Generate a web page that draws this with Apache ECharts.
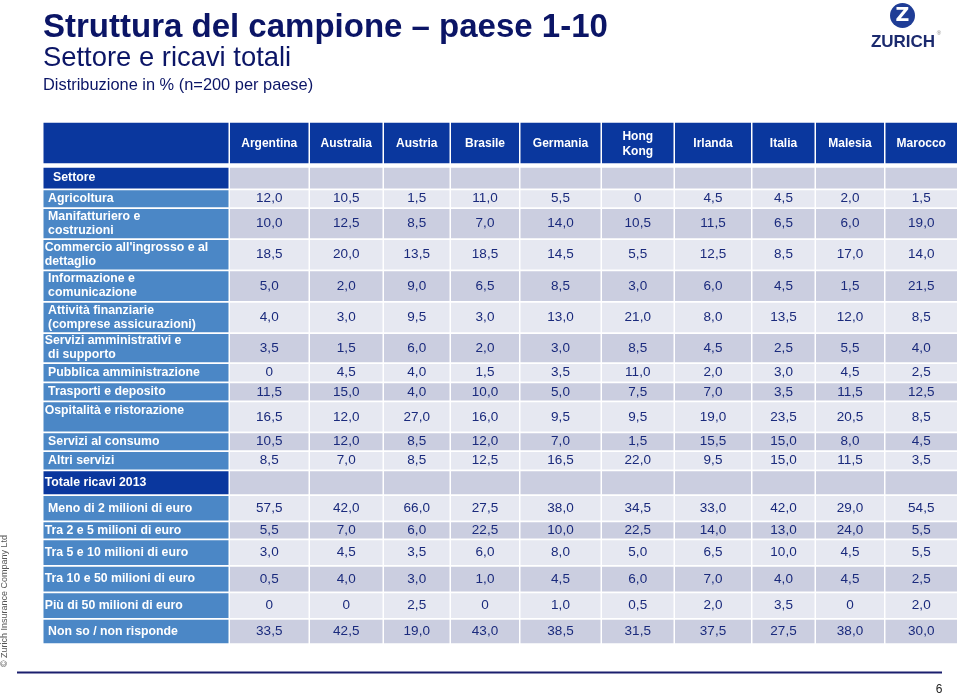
<!DOCTYPE html>
<html>
<head>
<meta charset="utf-8">
<script src="https://cdn.jsdelivr.net/npm/echarts@6/dist/echarts.min.js"></script>
<style>
  html, body { margin: 0; padding: 0; background: #fff; }
  #tab { width: 960px; height: 700px; }
</style>
</head>
<body>
<div id="tab"></div>
<script>
// ---- data ----
var countries = ['Argentina', 'Australia', 'Austria', 'Brasile', 'Germania', 'Hong\nKong', 'Irlanda', 'Italia', 'Malesia', 'Marocco'];

var sectorTitle = 'Settore';
var sectorLabels = [
  ' Agricoltura',
  ' Manifatturiero e\n costruzioni',
  "Commercio all'ingrosso e al\ndettaglio",
  ' Informazione e\n comunicazione',
  ' Attività finanziarie\n (comprese assicurazioni)',
  'Servizi amministrativi e\n di supporto',
  ' Pubblica amministrazione',
  ' Trasporti e deposito',
  'Ospitalità e ristorazione',
  ' Servizi al consumo',
  ' Altri servizi'
];
var sectorValues = [
  [12.0, 10.5, 1.5, 11.0, 5.5, 0, 4.5, 4.5, 2.0, 1.5],
  [10.0, 12.5, 8.5, 7.0, 14.0, 10.5, 11.5, 6.5, 6.0, 19.0],
  [18.5, 20.0, 13.5, 18.5, 14.5, 5.5, 12.5, 8.5, 17.0, 14.0],
  [5.0, 2.0, 9.0, 6.5, 8.5, 3.0, 6.0, 4.5, 1.5, 21.5],
  [4.0, 3.0, 9.5, 3.0, 13.0, 21.0, 8.0, 13.5, 12.0, 8.5],
  [3.5, 1.5, 6.0, 2.0, 3.0, 8.5, 4.5, 2.5, 5.5, 4.0],
  [0, 4.5, 4.0, 1.5, 3.5, 11.0, 2.0, 3.0, 4.5, 2.5],
  [11.5, 15.0, 4.0, 10.0, 5.0, 7.5, 7.0, 3.5, 11.5, 12.5],
  [16.5, 12.0, 27.0, 16.0, 9.5, 9.5, 19.0, 23.5, 20.5, 8.5],
  [10.5, 12.0, 8.5, 12.0, 7.0, 1.5, 15.5, 15.0, 8.0, 4.5],
  [8.5, 7.0, 8.5, 12.5, 16.5, 22.0, 9.5, 15.0, 11.5, 3.5]
];

var revenueTitle = 'Totale ricavi 2013';
var revenueLabels = [
  ' Meno di 2 milioni di euro',
  'Tra 2 e 5 milioni di euro',
  'Tra 5 e 10 milioni di euro',
  'Tra 10 e 50 milioni di euro',
  'Più di 50 milioni di euro',
  ' Non so / non risponde'
];
var revenueValues = [
  [57.5, 42.0, 66.0, 27.5, 38.0, 34.5, 33.0, 42.0, 29.0, 54.5],
  [5.5, 7.0, 6.0, 22.5, 10.0, 22.5, 14.0, 13.0, 24.0, 5.5],
  [3.0, 4.5, 3.5, 6.0, 8.0, 5.0, 6.5, 10.0, 4.5, 5.5],
  [0.5, 4.0, 3.0, 1.0, 4.5, 6.0, 7.0, 4.0, 4.5, 2.5],
  [0, 0, 2.5, 0, 1.0, 0.5, 2.0, 3.5, 0, 2.0],
  [33.5, 42.5, 19.0, 43.0, 38.5, 31.5, 37.5, 27.5, 38.0, 30.0]
];

// ---- table layout (axis units = px of the page) ----
var colStarts = [43.5, 230, 310, 384, 451, 520.5, 602, 675, 752.5, 816, 885.5];
var tableRight = 958.5;
var rowTops = [122.7, 167.7, 190.3, 209, 240, 271.3, 302.7, 334, 364, 383.3, 402.3,
               433.3, 452, 471.3, 496, 522.3, 540.3, 566.7, 593.3, 619.7];
var tableBottom = 645;
var colGap = 1.5, rowGap = 1.8, headerGap = 4.4;
var topLabelRow = 10; // Ospitalità: label sits at the top of the cell

var navy = '#0a379e', blue = '#4b87c6', light = '#e6e8f1', dark = '#cbcee0';
var ink = '#1a2a7c';
var font = '"Liberation Sans", Arial, Helvetica, sans-serif';

function fmt(v) {
  return v === 0 ? '0' : v.toFixed(1).replace('.', ',');
}

// build the cell list
var cells = [];
function addRow(r, kind, label, values) {
  cells.push({ value: [0, r], kind: kind, col: 0, text: label });
  for (var c = 0; c < 10; c++) {
    var t = '';
    if (kind === 'header') t = countries[c];
    else if (values) t = fmt(values[c]);
    cells.push({ value: [c + 1, r], kind: kind, col: c + 1, text: t });
  }
}
var r = 0;
addRow(r++, 'header', '', null);
addRow(r++, 'section', sectorTitle, null);
sectorLabels.forEach(function (lab, i) { addRow(r++, 'data', lab, sectorValues[i]); });
addRow(r++, 'section', revenueTitle, null);
revenueLabels.forEach(function (lab, i) { addRow(r++, 'data', lab, revenueValues[i]); });

function renderCell(params, api) {
  var cell = cells[params.dataIndex];
  var c = api.value(0), row = api.value(1);
  var x0 = colStarts[c];
  var x1 = (c + 1 < colStarts.length ? colStarts[c + 1] : tableRight) - colGap;
  var y0 = rowTops[row];
  var y1 = (row + 1 < rowTops.length ? rowTops[row + 1] : tableBottom) - (row === 0 ? headerGap : rowGap);
  var a = api.coord([x0, y0]);
  var b = api.coord([x1, y1]);
  var fill;
  if (cell.kind === 'header') fill = navy;
  else if (cell.kind === 'section') fill = c === 0 ? navy : dark;
  else fill = c === 0 ? blue : (row % 2 === 0 ? light : dark);

  var children = [{
    type: 'rect',
    shape: { x: a[0], y: a[1], width: b[0] - a[0], height: b[1] - a[1] },
    style: { fill: fill }
  }];
  if (cell.text) {
    var isLabel = c === 0;
    var tx = isLabel ? a[0] + (cell.kind === 'section' && row === 1 ? 9.5 : 1.2) : (a[0] + b[0]) / 2;
    var ty = (a[1] + b[1]) / 2 + (cell.kind === 'header' ? 1 : 0);
    if (isLabel && row === topLabelRow) ty = a[1] + 8;
    var white = isLabel || cell.kind === 'header';
    children.push({
      type: 'text',
      style: {
        text: cell.text,
        x: tx,
        y: ty,
        align: isLabel ? 'left' : 'center',
        verticalAlign: 'middle',
        fill: white ? '#ffffff' : ink,
        fontFamily: font,
        fontSize: isLabel ? 12.3 : (white ? 12 : 13.5),
        fontWeight: white ? 'bold' : 'normal',
        lineHeight: cell.kind === 'header' ? 15 : 14
      }
    });
  }
  return { type: 'group', children: children };
}

var chart = echarts.init(document.getElementById('tab'));
var option = {
  animation: false,
  grid: { left: 0, right: 0, top: 0, bottom: 0 },
  xAxis: { type: 'value', min: 0, max: 960, show: false },
  yAxis: { type: 'value', min: 0, max: 700, inverse: true, show: false },
  series: [{
    type: 'custom',
    renderItem: renderCell,
    clip: false,
    data: cells
  }],
  graphic: [
    { type: 'text', left: 43, top: 11, style: { text: 'Struttura del campione – paese 1-10', fill: '#0b1566', font: 'bold 33px ' + font } },
    { type: 'text', left: 43, top: 45, style: { text: 'Settore e ricavi totali', fill: '#0b1566', font: '27.4px ' + font } },
    { type: 'text', left: 43, top: 77, style: { text: 'Distribuzione in % (n=200 per paese)', fill: '#0b1566', font: '16.4px ' + font } },
    // logo
    { type: 'circle', shape: { cx: 902.5, cy: 15.5, r: 12.5 }, style: { fill: '#1f3d96' } },
    { type: 'text', style: { text: 'Z', x: 902.5, y: 16, align: 'center', verticalAlign: 'middle', fill: '#fff', font: 'bold 19px "DejaVu Sans", sans-serif' } },
    { type: 'text', style: { text: 'ZURICH', x: 903, y: 42.5, align: 'center', verticalAlign: 'middle', fill: '#1b2a6e', font: 'bold 17px ' + font } },
    { type: 'text', style: { text: '®', x: 939, y: 33, align: 'center', verticalAlign: 'middle', fill: '#888', font: '6px ' + font } },
    // footer
    { type: 'line', shape: { x1: 17, y1: 672.5, x2: 942, y2: 672.5 }, style: { stroke: '#1b1f6e', lineWidth: 2 } },
    { type: 'text', style: { text: '6', x: 939, y: 690, align: 'center', verticalAlign: 'middle', fill: '#222', font: '12px ' + font } },
    { type: 'text', x: 5, y: 601, rotation: Math.PI / 2, style: { text: '© Zurich Insurance Company Ltd', x: 0, y: 0, align: 'center', verticalAlign: 'middle', fill: '#555', font: '9px ' + font } }
  ]
};
chart.setOption(option);
</script>
</body>
</html>
